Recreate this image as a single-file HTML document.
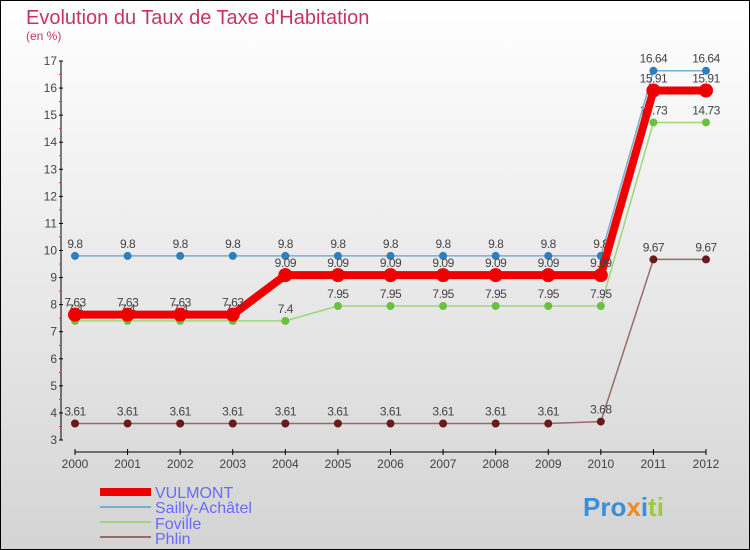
<!DOCTYPE html>
<html><head><meta charset="utf-8"><style>
body{margin:0}
#c{width:750px;height:550px;position:relative;box-sizing:border-box;border:1px solid #000;background:linear-gradient(#fff,#d4d4d4);overflow:hidden;font-family:"Liberation Sans",sans-serif}
</style></head><body>
<div id="c">
<svg id="s" width="750" height="550" style="position:absolute;left:-1px;top:-1px;font-family:'Liberation Sans',sans-serif">
<text x="26" y="24" font-size="20" fill="#c8345f">Evolution du Taux de Taxe d'Habitation</text>
<text x="26" y="40" font-size="12" fill="#c8345f">(en %)</text>
<g id="axes"></g><g id="series"></g>
<g>
<rect x="100" y="488" width="51" height="8" fill="#e00"/>
<text x="155" y="498" font-size="16" fill="#6a6aff">VULMONT</text>
<rect x="100" y="506" width="51" height="2" fill="#7aaecf"/>
<text x="155" y="513" font-size="16" fill="#6a6aff">Sailly-Achâtel</text>
<rect x="100" y="521" width="51" height="2" fill="#9cd87a"/>
<text x="155" y="529" font-size="16" fill="#6a6aff">Foville</text>
<rect x="100" y="536" width="51" height="2" fill="#9a6a6a"/>
<text x="155" y="544" font-size="16" fill="#6a6aff">Phlin</text>
</g>
<text x="583" y="516" font-size="26" font-weight="bold"><tspan fill="#3a8fd8">Pro</tspan><tspan fill="#f08a1c">x</tspan><tspan fill="#3a8fd8">i</tspan><tspan fill="#9ccc3a">ti</tspan></text>
</svg>
</div>
<script>
const years=[2000,2001,2002,2003,2004,2005,2006,2007,2008,2009,2010,2011,2012];
const yTicks=[3,4,5,6,7,8,9,10,11,12,13,14,15,16,17];
const vulmont=[7.63,7.63,7.63,7.63,9.09,9.09,9.09,9.09,9.09,9.09,9.09,15.91,15.91];
const sailly=[9.8,9.8,9.8,9.8,9.8,9.8,9.8,9.8,9.8,9.8,9.8,16.64,16.64];
const foville=[7.4,7.4,7.4,7.4,7.4,7.95,7.95,7.95,7.95,7.95,7.95,14.73,14.73];
const phlin=[3.61,3.61,3.61,3.61,3.61,3.61,3.61,3.61,3.61,3.61,3.68,9.67,9.67];
const NS="http://www.w3.org/2000/svg";
const X=i=>75+i*(706-75)/12, Y=v=>440-(v-3)*(440-61)/14;
function mk(p,t,a){const e=document.createElementNS(NS,t);for(const k in a)e.setAttribute(k,a[k]);p.appendChild(e);return e;}
const ax=document.getElementById('axes');
let e=mk(ax,'line',{x1:61,y1:61,x2:61,y2:440,stroke:'#000'});


e=mk(ax,'line',{x1:75,y1:452,x2:706,y2:452,stroke:'#000'});


yTicks.forEach(v=>{mk(ax,'line',{x1:59,y1:Y(v),x2:63,y2:Y(v),stroke:'#000'});
if(v<17)mk(ax,'line',{x1:59,y1:Y(v+0.5),x2:61,y2:Y(v+0.5),stroke:'#f33'});
const t=mk(ax,'text',{x:57,y:Y(v)+4,'font-size':12,fill:'#444','text-anchor':'end'});t.textContent=v;

});
years.forEach((y,i)=>{mk(ax,'line',{x1:X(i),y1:449,x2:X(i),y2:455,stroke:'#000'});
const t=mk(ax,'text',{x:X(i),y:468,'font-size':12,fill:'#444','text-anchor':'middle'});t.textContent=y;

});
const sg=document.getElementById('series');
function draw(d,name,col,dot,w,r){
const l=mk(sg,'polyline',{points:d.map((v,i)=>X(i)+','+Y(v)).join(' '),fill:'none',stroke:col,'stroke-width':w,'stroke-linejoin':'round'});


d.forEach((v,i)=>{const c=mk(sg,'circle',{cx:X(i),cy:Y(v),r:r,fill:dot});


const t=mk(sg,'text',{x:X(i),y:Y(v)-8,'font-size':12,fill:'#444','text-anchor':'middle','letter-spacing':'-0.5'});t.textContent=v;

});}
draw(phlin,'phlin','#9a6a6a','#6a1a1a',1.5,4);
draw(foville,'foville','#9cd87a','#6cc040',1.5,4);
draw(sailly,'sailly','#7aaecf','#2f7fbf',1.5,4);
draw(vulmont,'vulmont','#e00','#e00',8,7);
</script>
</body></html>
